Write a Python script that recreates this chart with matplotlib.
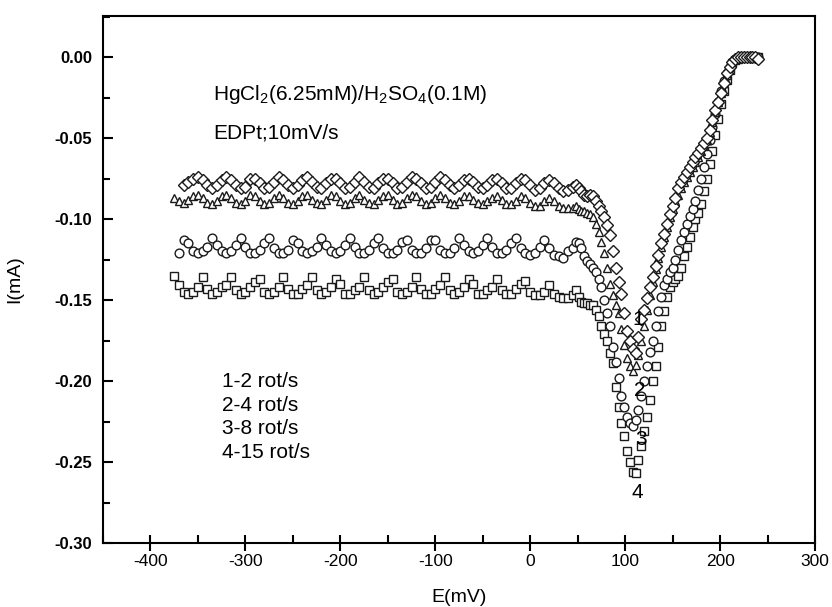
import matplotlib
matplotlib.use('Agg')
import matplotlib.pyplot as plt
from matplotlib.ticker import MultipleLocator, FormatStrFormatter
import numpy as np

plt.rcParams['font.family'] = ['Liberation Sans', 'DejaVu Sans']
plt.rcParams['mathtext.fontset'] = 'custom'
plt.rcParams['mathtext.rm'] = 'Liberation Sans'
plt.rcParams['mathtext.default'] = 'regular'
plt.rcParams['axes.unicode_minus'] = False

# potential grid (mV): 5 mV on the flat part, 3 mV through the peak
E = list(range(-375, 41, 5)) + list(range(45, 241, 3))

# 1 - 2 rot/s (diamonds)
i1 = [np.nan, np.nan, -0.079, -0.077, -0.075, -0.074, -0.076, -0.079, -0.081, -0.079,
      -0.076, -0.074, -0.076, -0.079, -0.081, -0.080, -0.075, -0.075, -0.078, -0.081,
      -0.080, -0.077, -0.074, -0.076, -0.079, -0.081, -0.079, -0.076, -0.074, -0.077,
      -0.080, -0.081, -0.078, -0.075, -0.075, -0.078, -0.081, -0.080, -0.077, -0.074,
      -0.077, -0.080, -0.081, -0.078, -0.075, -0.075, -0.078, -0.081, -0.080, -0.077,
      -0.074, -0.075, -0.078, -0.081, -0.080, -0.077, -0.074, -0.076, -0.079, -0.081,
      -0.079, -0.076, -0.075, -0.077, -0.080, -0.081, -0.079, -0.076, -0.075, -0.078,
      -0.081, -0.081, -0.078, -0.075, -0.076, -0.079, -0.082, -0.081, -0.078, -0.076,
      -0.078, -0.081, -0.083, -0.082,
      -0.080, -0.079, -0.081, -0.083, -0.085, -0.086, -0.085, -0.086, -0.089, -0.092,
      -0.095, -0.099, -0.104, -0.110, -0.120, -0.130, -0.139, -0.146, -0.158, -0.169,
      -0.175, -0.180, -0.183, -0.173, -0.162, -0.156, -0.149, -0.142, -0.136, -0.129,
      -0.122, -0.115, -0.109, -0.103, -0.097, -0.092, -0.087, -0.081, -0.077, -0.074,
      -0.071, -0.068, -0.065, -0.062, -0.059, -0.056, -0.053, -0.050, -0.045, -0.039,
      -0.033, -0.028, -0.022, -0.016, -0.010, -0.006, -0.003, -0.001, 0.000, 0.000,
      0.000, 0.000, 0.000, 0.000, 0.000, -0.001]

# 2 - 4 rot/s (triangles)
i2 = [-0.087, -0.089, -0.090, -0.088, -0.086, -0.085, -0.087, -0.090, -0.091, -0.089,
      -0.086, -0.085, -0.087, -0.090, -0.091, -0.089, -0.085, -0.086, -0.089, -0.091,
      -0.090, -0.087, -0.085, -0.087, -0.090, -0.091, -0.089, -0.086, -0.085, -0.088,
      -0.090, -0.091, -0.088, -0.085, -0.086, -0.089, -0.091, -0.090, -0.087, -0.085,
      -0.088, -0.090, -0.091, -0.088, -0.086, -0.085, -0.088, -0.091, -0.090, -0.087,
      -0.085, -0.086, -0.089, -0.091, -0.090, -0.087, -0.085, -0.087, -0.090, -0.091,
      -0.089, -0.086, -0.086, -0.088, -0.090, -0.091, -0.089, -0.087, -0.086, -0.088,
      -0.091, -0.091, -0.089, -0.086, -0.087, -0.090, -0.092, -0.092, -0.089, -0.087,
      -0.089, -0.092, -0.093, -0.093,
      -0.093, -0.092, -0.094, -0.095, -0.095, -0.096, -0.097, -0.099, -0.103, -0.108,
      -0.114, -0.121, -0.130, -0.140, -0.147, -0.153, -0.158, -0.168, -0.178, -0.186,
      -0.191, -0.194, -0.190, -0.184, -0.175, -0.166, -0.156, -0.147, -0.139, -0.131,
      -0.124, -0.117, -0.111, -0.105, -0.099, -0.094, -0.089, -0.085, -0.081, -0.077,
      -0.074, -0.071, -0.068, -0.065, -0.062, -0.058, -0.055, -0.051, -0.046, -0.040,
      -0.034, -0.028, -0.022, -0.016, -0.011, -0.006, -0.003, -0.001, 0.000, 0.000,
      0.000, 0.000, 0.000, 0.000, 0.000, 0.000]

# 3 - 8 rot/s (circles)
i3 = [np.nan, -0.121, -0.113, -0.115, -0.120, -0.121, -0.120, -0.117, -0.112, -0.116,
      -0.120, -0.121, -0.120, -0.116, -0.112, -0.117, -0.121, -0.121, -0.119, -0.115,
      -0.112, -0.118, -0.121, -0.121, -0.119, -0.113, -0.115, -0.120, -0.121, -0.120,
      -0.117, -0.112, -0.116, -0.120, -0.121, -0.120, -0.116, -0.112, -0.117, -0.121,
      -0.121, -0.119, -0.115, -0.112, -0.118, -0.121, -0.121, -0.119, -0.114, -0.113,
      -0.119, -0.121, -0.121, -0.118, -0.113, -0.113, -0.119, -0.121, -0.121, -0.118,
      -0.112, -0.116, -0.120, -0.121, -0.120, -0.116, -0.112, -0.117, -0.121, -0.121,
      -0.119, -0.115, -0.112, -0.118, -0.121, -0.122, -0.121, -0.117, -0.113, -0.118,
      -0.122, -0.123, -0.124, -0.120,
      -0.118, -0.114, -0.115, -0.118, -0.123, -0.126, -0.128, -0.130, -0.133, -0.137,
      -0.142, -0.150, -0.158, -0.166, -0.179, -0.188, -0.198, -0.209, -0.216, -0.222,
      -0.226, -0.228, -0.224, -0.218, -0.209, -0.200, -0.191, -0.182, -0.175, -0.166,
      -0.157, -0.148, -0.141, -0.137, -0.133, -0.130, -0.125, -0.119, -0.113, -0.108,
      -0.103, -0.098, -0.094, -0.089, -0.082, -0.075, -0.068, -0.060, -0.051, -0.043,
      -0.035, -0.028, -0.021, -0.015, -0.010, -0.006, -0.003, -0.001, 0.000, 0.000,
      0.000, 0.000, 0.000, 0.000, 0.000, 0.000]

# 4 - 15 rot/s (squares)
i4 = [-0.135, -0.141, -0.145, -0.146, -0.145, -0.142, -0.136, -0.143, -0.146, -0.145,
      -0.142, -0.141, -0.136, -0.144, -0.146, -0.145, -0.142, -0.139, -0.137, -0.145,
      -0.146, -0.145, -0.142, -0.136, -0.143, -0.146, -0.146, -0.143, -0.141, -0.136,
      -0.144, -0.146, -0.145, -0.142, -0.137, -0.140, -0.146, -0.146, -0.144, -0.142,
      -0.136, -0.144, -0.146, -0.145, -0.142, -0.139, -0.137, -0.145, -0.146, -0.145,
      -0.142, -0.136, -0.143, -0.146, -0.146, -0.143, -0.141, -0.136, -0.144, -0.146,
      -0.145, -0.142, -0.137, -0.140, -0.146, -0.146, -0.144, -0.142, -0.137, -0.144,
      -0.146, -0.146, -0.143, -0.140, -0.138, -0.145, -0.147, -0.147, -0.145, -0.141,
      -0.146, -0.148, -0.149, -0.149,
      -0.147, -0.144, -0.148, -0.151, -0.152, -0.152, -0.153, -0.153, -0.156, -0.160,
      -0.166, -0.171, -0.175, -0.183, -0.189, -0.204, -0.216, -0.226, -0.234, -0.243,
      -0.250, -0.256, -0.257, -0.249, -0.240, -0.231, -0.222, -0.212, -0.200, -0.191,
      -0.179, -0.166, -0.157, -0.148, -0.142, -0.139, -0.137, -0.135, -0.130, -0.123,
      -0.117, -0.111, -0.105, -0.100, -0.096, -0.091, -0.083, -0.075, -0.066, -0.058,
      -0.048, -0.038, -0.029, -0.021, -0.014, -0.008, -0.004, -0.002, -0.001, 0.000,
      0.000, 0.000, 0.000, 0.000, 0.000, 0.000]

fig = plt.figure(figsize=(8.32, 6.07), dpi=100)
ax = fig.add_axes([0.1238, 0.1054, 0.8558, 0.8682])

style = dict(linestyle='none', ms=6.3, mfc='white', mec='#1a1a1a', mew=1.0)
ax.plot(E, i4, marker='s', **style)
ax.plot(E, i3, marker='o', **style)
ax.plot(E, i2, marker='^', **style)
ax.plot(E, i1, marker='D', **dict(style, ms=5.8))

ax.set_xlim(-450, 300)
ax.set_ylim(-0.30, 0.0253)

ax.xaxis.set_major_locator(MultipleLocator(100))
ax.xaxis.set_minor_locator(MultipleLocator(50))
ax.yaxis.set_major_locator(MultipleLocator(0.05))
ax.yaxis.set_minor_locator(MultipleLocator(0.025))
ax.yaxis.set_major_formatter(FormatStrFormatter('%.2f'))

for s in ax.spines.values():
    s.set_linewidth(1.5)
ax.tick_params(axis='x', which='major', direction='inout', length=12, width=1.5, labelsize=12.5, pad=2)
ax.tick_params(axis='x', which='minor', direction='in', length=6, width=1.5)
ax.tick_params(axis='y', which='major', direction='in', length=7, width=1.5, labelsize=12, pad=8)
ax.tick_params(axis='y', which='minor', direction='in', length=5, width=1.5)
for lab in ax.get_yticklabels():
    lab.set_fontweight('bold')
for lab in ax.get_xticklabels():
    lab.set_family(['Liberation Sans Narrow', 'Liberation Sans'])

ax.set_xlabel('E(mV)', fontsize=14, labelpad=14)
ax.set_ylabel('I(mA)', fontsize=14, labelpad=22)

ax.text(-334, -0.0265, 'HgCl$_2$(6.25mM)/H$_2$SO$_4$(0.1M)', fontsize=15)
ax.text(-334, -0.050, 'EDPt;10mV/s', fontsize=15)
ax.text(-325, -0.2475, '1-2 rot/s\n2-4 rot/s\n3-8 rot/s\n4-15 rot/s', fontsize=15, linespacing=1.3)

for lab, x, y in [('1', 114, -0.162), ('2', 115, -0.206), ('3', 117, -0.236), ('4', 113, -0.269)]:
    ax.text(x, y, lab, fontsize=15, ha='center', va='center')

fig.savefig('out.png', dpi=100)
